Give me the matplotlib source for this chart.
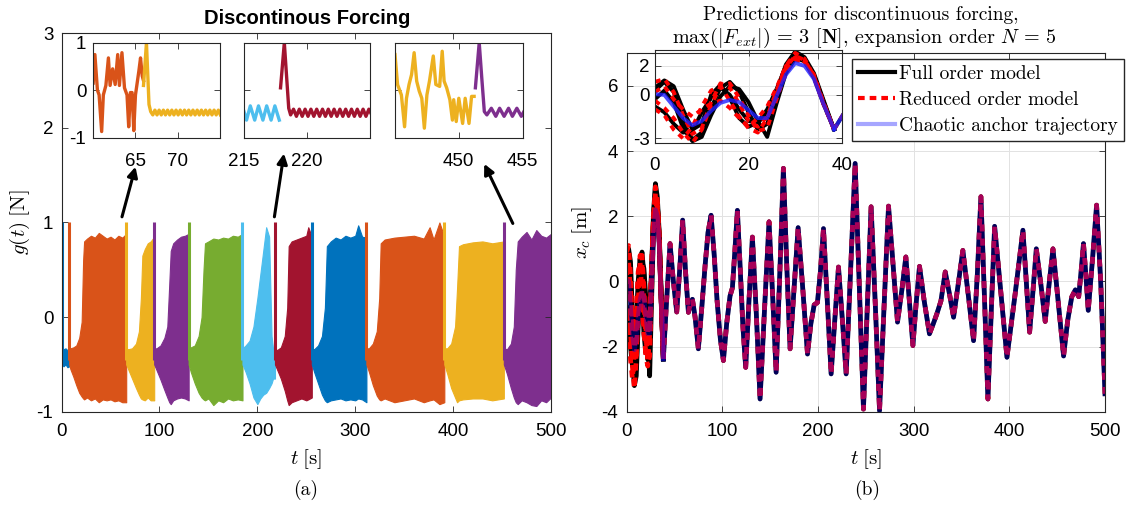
import matplotlib.pyplot as plt
from matplotlib.lines import Line2D

plt.rcParams['font.family'] = ['Liberation Sans', 'DejaVu Sans']
plt.rcParams['mathtext.fontset'] = 'cm'
plt.rcParams['axes.unicode_minus'] = False

# MATLAB default colour order
c_blue, c_orange, c_yellow, c_purple = '#0072BD', '#D95319', '#EDB120', '#7E2F8E'
c_green, c_lblue, c_dred = '#77AC30', '#4DBEEE', '#A2142F'

# ---------------- (a) discontinuous forcing g(t) ----------------
# each segment: times, upper and lower edge of the dense oscillation band
seg_colors = [c_blue, c_orange, c_yellow, c_purple, c_green, c_lblue, c_dred,
              c_blue, c_orange, c_yellow, c_purple]
seg_t = [
    [0.3, 2, 4, 6, 7.8],
    [7.8, 9, 12, 15, 18, 20.5, 22, 23, 26, 30, 34, 38, 42, 46, 50, 54, 58, 62, 66.0],
    [66.0, 68, 72, 76, 79, 81, 82.5, 85, 88, 91, 94.6],
    [94.6, 97, 101, 105, 108, 110, 111.5, 114, 118, 122, 126, 129.8],
    [129.8, 132, 136, 140, 143, 145, 146.5, 150, 155, 160, 165, 170, 175, 180, 184.8],
    [184.8, 188, 192, 196, 200, 203, 206, 209, 212, 214.5, 216, 218.0],
    [218.0, 220, 224, 228, 230.5, 232, 235, 240, 245, 250, 252, 255.6],
    [255.6, 258, 262, 266, 269, 271, 275, 280, 285, 290, 295, 300, 303, 307, 311.4],
    [311.4, 314, 318, 322, 324.5, 326, 330, 340, 350, 360, 370, 376, 380, 386, 391.0],
    [391.0, 394, 398, 402, 404, 406, 410, 420, 430, 440, 451.8],
    [451.8, 455, 459, 462, 464, 466, 470, 475, 480, 485, 490, 495, 500],
]
seg_hi = [
    [-0.33, -0.34, -0.33, -0.35, -0.34],
    [-0.33, -0.33, -0.32, -0.3, -0.22, -0.05, 0.6, 0.8, 0.83, 0.86, 0.84, 0.89, 0.86, 0.83, 0.85, 0.82, 0.86, 0.84, 0.88],
    [-0.33, -0.34, -0.33, -0.28, -0.15, 0.2, 0.65, 0.72, 0.78, 0.8, 0.85],
    [-0.33, -0.33, -0.3, -0.22, -0.1, 0.35, 0.7, 0.78, 0.82, 0.85, 0.86, 0.88],
    [-0.33, -0.32, -0.3, -0.2, 0.0, 0.5, 0.78, 0.8, 0.83, 0.82, 0.84, 0.83, 0.86, 0.85, 0.88],
    [-0.33, -0.3, -0.25, -0.1, 0.2, 0.45, 0.7, 0.95, 0.85, -0.2, -0.33, -0.33],
    [-0.33, -0.35, -0.32, -0.2, 0.1, 0.75, 0.8, 0.82, 0.84, 0.86, 0.95, 0.85],
    [-0.33, -0.34, -0.3, -0.2, 0.1, 0.75, 0.8, 0.84, 0.82, 0.86, 0.84, 0.86, 0.97, 0.85, 0.84],
    [-0.33, -0.33, -0.28, -0.15, 0.2, 0.78, 0.82, 0.84, 0.85, 0.86, 0.83, 0.95, 0.82, 1.0, 0.85],
    [-0.33, -0.33, -0.28, -0.1, 0.3, 0.75, 0.77, 0.79, 0.8, 0.78, 0.8],
    [-0.33, -0.34, -0.28, -0.1, 0.5, 0.8, 0.85, 0.9, 0.82, 0.92, 0.86, 0.84, 0.88],
]
seg_lo = [
    [-0.5, -0.52, -0.5, -0.53, -0.52],
    [-0.5, -0.55, -0.63, -0.72, -0.8, -0.84, -0.86, -0.87, -0.85, -0.88, -0.86, -0.9, -0.87, -0.88, -0.87, -0.89, -0.88, -0.9, -0.9],
    [-0.5, -0.55, -0.65, -0.75, -0.82, -0.86, -0.87, -0.88, -0.85, -0.88, -0.88],
    [-0.5, -0.56, -0.66, -0.77, -0.85, -0.9, -0.92, -0.88, -0.86, -0.85, -0.86, -0.88],
    [-0.5, -0.58, -0.7, -0.8, -0.85, -0.87, -0.88, -0.86, -0.93, -0.88, -0.9, -0.86, -0.88, -0.87, -0.88],
    [-0.5, -0.58, -0.7, -0.85, -0.92, -0.86, -0.82, -0.8, -0.75, -0.7, -0.65, -0.65],
    [-0.5, -0.55, -0.65, -0.78, -0.88, -0.93, -0.9, -0.88, -0.86, -0.88, -0.87, -0.85],
    [-0.5, -0.58, -0.7, -0.82, -0.88, -0.9, -0.88, -0.87, -0.86, -0.88, -0.87, -0.88, -0.86, -0.87, -0.9],
    [-0.5, -0.58, -0.72, -0.83, -0.87, -0.88, -0.86, -0.9, -0.88, -0.86, -0.9, -0.88, -0.87, -0.92, -0.9],
    [-0.5, -0.6, -0.75, -0.85, -0.9, -0.88, -0.87, -0.86, -0.86, -0.88, -0.86],
    [-0.5, -0.6, -0.75, -0.85, -0.9, -0.92, -0.88, -0.9, -0.93, -0.94, -0.88, -0.9, -0.85],
]
# switching spikes (start of every segment)
spike_t = [0.5, 7.8, 66.3, 94.6, 129.8, 184.8, 218.2, 255.6, 311.4, 391.0, 451.8]

# zoomed windows around three switches
ins1_a_t = [60.0, 60.2, 60.5, 60.7, 61.0, 61.2, 61.5, 61.8, 62.0, 62.3, 62.6, 62.9, 63.1, 63.4,
            63.7, 64.0, 64.2, 64.4, 64.6, 64.8, 65.0, 65.4, 65.6, 65.8, 65.95]
ins1_a_g = [0.15, 0.75, 0.0, -0.1, -0.87, -0.1, 0.1, 0.68, 0.1, 0.45, 0.12, 0.75, 0.1, 0.79,
            0.05, -0.1, -0.77, -0.05, -0.05, -0.85, -0.1, 0.4, 0.68, 0.3, 0.2]
ins1_b_t = [65.95, 66.3, 66.6, 66.8, 67.05, 67.3, 67.55, 67.8, 68.05, 68.3, 68.55, 68.8, 69.05,
            69.3, 69.55, 69.8, 70.05, 70.3, 70.55, 70.8, 71.05, 71.3, 71.55, 71.8, 72.05, 72.3,
            72.55, 72.8, 73.05, 73.3, 73.55, 73.8, 74.05, 74.3, 74.55, 74.8, 75.05]
ins1_b_g = [0.1, 1.0, -0.3, -0.45, -0.52, -0.42, -0.52, -0.42, -0.52, -0.42, -0.52, -0.42, -0.52,
            -0.42, -0.52, -0.42, -0.52, -0.42, -0.52, -0.42, -0.52, -0.42, -0.52, -0.42, -0.52, -0.42,
            -0.52, -0.42, -0.52, -0.42, -0.52, -0.42, -0.52, -0.42, -0.52, -0.42, -0.52]
ins2_a_t = [215.0, 215.2, 215.5, 215.85, 216.15, 216.5, 216.8, 217.15, 217.45, 217.8]
ins2_a_g = [-0.45, -0.63, -0.33, -0.63, -0.33, -0.63, -0.33, -0.63, -0.33, -0.63]
ins2_b_t = [217.9, 218.2, 218.55, 218.7, 218.93, 219.16, 219.39, 219.62, 219.85, 220.08, 220.31,
            220.54, 220.77, 221.0, 221.23, 221.46, 221.69, 221.92, 222.15, 222.38, 222.61, 222.84,
            223.07, 223.3, 223.53, 223.76, 223.99, 224.22, 224.45, 224.68, 224.91, 225.1]
ins2_b_g = [0.05, 1.0, -0.38, -0.52, -0.4, -0.55, -0.4, -0.55, -0.4, -0.55, -0.4,
            -0.55, -0.4, -0.55, -0.4, -0.55, -0.4, -0.55, -0.4, -0.55, -0.4, -0.55,
            -0.4, -0.55, -0.4, -0.55, -0.4, -0.55, -0.4, -0.55, -0.4, -0.5]
ins3_a_t = [445.0, 445.2, 445.5, 445.75, 445.9, 446.1, 446.3, 446.5, 446.7, 446.9, 447.1, 447.3,
            447.5, 447.7, 448.0, 448.2, 448.5, 448.7, 448.85, 449.05, 449.3, 449.5, 449.6, 449.8,
            450.0, 450.3, 450.5, 450.8, 451.0, 451.2]
ins3_a_g = [0.75, 0.12, -0.1, -0.77, -0.17, 0.12, 0.33, 0.79, 0.19, -0.02, -0.17, -0.8,
            -0.1, 0.19, 0.72, 0.12, 0.08, 0.82, 0.19, 0.05, -0.2, -0.63, -0.2, -0.66,
            -0.17, -0.7, -0.17, -0.7, -0.13, -0.13]
ins3_b_t = [451.3, 451.6, 451.8, 452.0, 452.2, 452.55, 452.9, 453.2, 453.55, 453.9, 454.2,
            454.55, 454.9, 455.1]
ins3_b_g = [0.05, 1.0, 0.26, -0.45, -0.52, -0.38, -0.55, -0.38, -0.55, -0.38, -0.55,
            -0.38, -0.55, -0.45]

# arrows: (tail t, tail g) -> (head t, head g)
arrow_tail = [(61.7, 1.06), (217.4, 1.06), (461.0, 0.99)]
arrow_head = [(75.5, 1.59), (227.2, 1.73), (431.8, 1.62)]

# ---------------- (b) predictions x_c(t) ----------------
t_early = [0, 2, 4, 6, 8, 10, 12, 14, 16, 18, 20, 22, 24, 26, 28, 30, 32, 34, 36, 38.3]
anchor_early = [0.05, 0.0, -0.8, -1.6, -2.1, -1.8, -1.1, -0.55, -0.35, -0.5, -1.05, -1.6,
                -1.6, -0.1, 1.4, 2.2, 2.0, 1.1, -0.6, -2.38]
fom_early = [
    [0.5, 1.0, 0.6, -1.0, -2.4, -2.0, 0.0, 0.7, -0.2, -1.6, -2.2, -1.9, -1.0, 0.4, 2.0, 2.8, 2.4, 1.3, -0.5, -2.38],
    [0.3, 0.9, 0.2, -1.8, -3.1, -2.6, -0.9, 0.5, 0.9, 0.2, -1.2, -2.4, -2.0, 0.0, 1.8, 2.6, 2.3, 1.2, -0.6, -2.38],
    [-0.3, 0.3, -0.5, -2.3, -3.2, -2.9, -1.4, -0.1, 0.6, 0.4, -0.5, -1.8, -2.9, -0.6, 1.5, 2.5, 2.4, 1.4, -0.4, -2.38],
    [-0.8, -1.2, -2.0, -2.6, -2.5, -1.2, -0.2, 0.5, 0.0, -1.0, -1.8, -1.9, -1.3, 0.2, 2.1, 3.0, 2.6, 1.5, -0.3, -2.38],
]
rom_early = [
    [0.9, 1.1, 0.2, -1.4, -2.7, -2.3, -0.5, 0.8, 0.5, -0.6, -1.8, -2.2, -1.5, 0.3, 2.0, 2.6, 2.3, 1.2, -0.6, -2.38],
    [-0.4, -0.9, -1.6, -2.6, -3.3, -2.4, -0.7, 0.6, 0.8, -0.2, -1.4, -2.5, -2.3, -0.3, 1.6, 2.4, 2.3, 1.4, -0.5, -2.38],
    [0.2, 0.6, -0.3, -1.0, -1.5, -1.0, -0.6, -0.4, -0.9, -1.6, -2.2, -1.6, -0.8, 0.5, 2.0, 2.9, 2.5, 1.3, -0.6, -2.38],
    [-1.0, -1.4, -2.4, -3.0, -2.2, -0.8, 0.3, 0.6, -0.4, -1.5, -2.3, -2.6, -1.6, 0.0, 1.9, 2.7, 2.4, 1.3, -0.5, -2.38],
]
# after ~40 s all trajectories coincide
t_tail = [38.3, 41.5, 45.3, 48.8, 52.3, 55.5, 58.5, 61.5, 64.5, 66.5, 68.7, 71.5, 74.9, 78.5,
          82, 85, 88.2, 91.5, 94.5, 98, 101.1, 104.5, 108, 110.5, 113, 115.7, 118.5, 121.5,
          124.4, 127.8, 131.4, 135.5, 139.4, 144, 148.8, 152.5, 156.2, 160, 163.8, 167.3,
          170.8, 175, 179.2, 184, 189, 192.5, 196, 199.4, 202.5, 205.7, 209.7, 213.7, 217.5,
          221.4, 225.5, 229.4, 234, 238.8, 243, 247.5, 251.5, 255.5, 260, 264.3, 269, 273.7,
          278.5, 283.1, 287.5, 291.8, 295.5, 299.2, 302.5, 306.1, 311, 316.5, 320.5, 324.2,
          328.5, 333, 337.5, 341.7, 346.5, 351.4, 357, 362.6, 366.5, 370.3, 374, 377.6, 381,
          384.6, 391, 397.5, 406, 414.2, 417.7, 421.2, 424.7, 428.2, 433, 437.5, 441.5, 445.6,
          451, 456.7, 461, 465.2, 469, 472.5, 475, 477.5, 480, 482.5, 487, 491.2, 495.5, 500]
x_tail = [-2.38, -0.7, 1.16, 0.0, -0.94, 0.4, 1.88, 0.3, -0.95, -0.7, -0.55, -1.1, -2.07, -0.8,
          0.5, 1.5, 2.03, 0.8, -0.6, -1.8, -2.43, -1.3, -0.45, -0.2, 0.9, 2.18, 0.5, -1.4,
          -2.64, -0.6, 1.36, -1.0, -3.61, -0.9, 1.83, -0.4, -2.79, 0.2, 3.47, 0.5,
          -2.07, -0.2, 1.65, -0.2, -2.23, -1.3, -0.72, -0.65, 0.3, 1.62, -0.6, -2.84, -1.2,
          0.44, -1.2, -2.84, 0.3, 3.62, 0.0, -3.92, -0.8, 2.29, -0.8, -3.97, -0.8, 2.31,
          0.5, -1.25, -0.3, 0.75, -0.6, -1.97, -0.7, 0.46, -0.6, -1.61, -1.3, -1.0,
          -0.6, 0.29, -0.4, -1.1, -0.1, 0.95, -0.4, -1.82, 0.2, 2.6, -0.5, -3.61, -1.0,
          1.69, -0.3, -2.33, -0.4, 1.57, 0.0, -1.56, -0.3, 1.0, -0.1, -1.23, -0.1, 1.0,
          -0.6, -2.29, -1.2, -0.48, -0.26, -0.47, 0.3, 1.16, 0.2, -0.89, 0.7, 2.34, 0.0, -3.45]

W, H = 1129, 507
fig = plt.figure(figsize=(W / 100, H / 100), dpi=100)


def style(ax, size=13.5):
    ax.tick_params(direction='in', top=True, right=True, labelsize=size, length=4,
                   width=0.6, color='#262626')
    for s in ax.spines.values():
        s.set_color('#262626')
        s.set_linewidth(0.8)


def px(x0, y0, x1, y1):
    # pixel box (left, top, right, bottom) -> figure fraction rect
    return [x0 / W, 1 - y1 / H, (x1 - x0) / W, (y1 - y0) / H]


# ---- left panel
axl = fig.add_axes(px(61.6, 33.3, 551, 411.7))
for t, hi, lo, c in zip(seg_t, seg_hi, seg_lo, seg_colors):
    axl.fill_between(t, lo, hi, color=c, lw=0.8, edgecolor=c)
axl.vlines(spike_t, -0.45, 1.0, colors=seg_colors, lw=2.2)
for tail, head in zip(arrow_tail, arrow_head):
    axl.annotate('', xy=head, xytext=tail,
                 arrowprops=dict(arrowstyle='-|>', color='k', lw=2.2, mutation_scale=15,
                                 shrinkA=0, shrinkB=0))
axl.set_xlim(0, 500)
axl.set_ylim(-1, 3)
axl.set_xticks([0, 100, 200, 300, 400, 500])
axl.set_yticks([-1, 0, 1, 2, 3])
style(axl)
axl.tick_params(axis='x', pad=8)
axl.tick_params(axis='y', pad=6)
axl.set_xlabel(r'$t\;[\mathrm{s}]$', fontsize=15)
axl.xaxis.set_label_coords(0.5, -0.095)
axl.set_ylabel(r'$g(t)\;[\mathrm{N}]$', fontsize=15)
axl.yaxis.set_label_coords(-0.06, 0.5)
fig.text(307 / W, 1 - 18 / H, 'Discontinous Forcing', ha='center', va='center',
         fontsize=14.5, fontweight='bold')
fig.text(306 / W, 1 - 490 / H, '(a)', ha='center', va='center', family='cmr10', fontsize=14)

insets = [
    (px(93.2, 42.7, 220, 137.7), (60, 75), [65, 70],
     [(ins1_a_t, ins1_a_g, c_orange), (ins1_b_t, ins1_b_g, c_yellow)], True),
    (px(244, 42.7, 370, 137.7), (215, 225), [215, 220],
     [(ins2_a_t, ins2_a_g, c_lblue), (ins2_b_t, ins2_b_g, c_dred)], False),
    (px(395, 42.7, 522.6, 137.7), (445, 455), [450, 455],
     [(ins3_a_t, ins3_a_g, c_yellow), (ins3_b_t, ins3_b_g, c_purple)], False),
]
for rect, xl, xt, lines, ylab in insets:
    ax = fig.add_axes(rect)
    for t, g, c in lines:
        ax.plot(t, g, color=c, lw=2.4, solid_joinstyle='round')
    ax.set_xlim(*xl)
    ax.set_ylim(-1, 1)
    ax.set_xticks(xt)
    ax.set_yticks([-1, 0, 1])
    style(ax)
    ax.tick_params(axis='x', pad=11)
    ax.tick_params(axis='y', pad=5, labelleft=ylab)

# ---- right panel
axr = fig.add_axes(px(626.7, 53.3, 1105, 411.7))
dash = (0, (1.5, 1.5))
lw_main = 3.4


def draw_traj(ax, lw, blue_alpha, blue_color):
    for x in fom_early:
        ax.plot(t_early, x, color='k', lw=lw, solid_joinstyle='round')
    ax.plot(t_tail, x_tail, color='k', lw=lw, solid_joinstyle='round')
    for x in rom_early:
        ax.plot(t_early, x, color='r', lw=lw, ls=dash, dash_capstyle='butt')
    ax.plot(t_tail, x_tail, color='r', lw=lw, ls=dash, dash_capstyle='butt')
    ax.plot(t_early, anchor_early, color=blue_color, alpha=blue_alpha, lw=lw)
    ax.plot(t_tail, x_tail, color=blue_color, alpha=blue_alpha, lw=lw)


draw_traj(axr, lw_main, 0.35, 'b')
axr.set_xlim(0, 500)
axr.set_ylim(-4, 7)
axr.set_xticks([0, 100, 200, 300, 400, 500])
axr.set_yticks([-4, -2, 0, 2, 4, 6])
axr.grid(True, color='#e2e2e2', lw=0.7)
axr.set_axisbelow(True)
style(axr)
axr.tick_params(axis='x', pad=8)
axr.tick_params(axis='y', pad=6)
axr.set_xlabel(r'$t\;[\mathrm{s}]$', fontsize=15)
axr.xaxis.set_label_coords(0.5, -0.1)
axr.set_ylabel(r'$x_c\;[\mathrm{m}]$', fontsize=15)
axr.yaxis.set_label_coords(-0.068, 0.5)

fig.text(861 / W, 1 - 15 / H, 'Predictions for discontinuous forcing,', ha='center',
         va='center', family='cmr10', fontsize=14)
fig.text(864 / W, 1 - 38 / H, r'$\max(|F_{ext}|)\,=\,3$ [$\mathbf{N}$], expansion order $N\,=\,5$',
         ha='center', va='center', family='cmr10', fontsize=14.5)
fig.text(867 / W, 1 - 490 / H, '(b)', ha='center', va='center', family='cmr10', fontsize=14)

handles = [Line2D([], [], color='k', lw=3),
           Line2D([], [], color='r', lw=3, ls=(0, (1.6, 1.2))),
           Line2D([], [], color='b', alpha=0.35, lw=3)]
axr.legend(handles, ['Full order model', 'Reduced order model', 'Chaotic anchor trajectory'],
           loc='upper right', bbox_to_anchor=(1124 / W, 1 - 59 / H),
           bbox_transform=fig.transFigure, fancybox=False, framealpha=1,
           edgecolor='#262626', prop={'family': 'cmr10', 'size': 14},
           handlelength=1.9, handletextpad=0.25, borderpad=0.3, labelspacing=0.42,
           borderaxespad=0)

axi = fig.add_axes(px(655, 50, 842, 142.7))
axi.set_facecolor('none')
draw_traj(axi, 2.8, 0.8, '#2020ff')
axi.set_xlim(0, 40)
axi.set_ylim(-3.3, 3.1)
axi.set_xticks([0, 20, 40])
axi.set_yticks([-3, 0, 2])
axi.grid(True, color='#e2e2e2', lw=0.7)
style(axi)
axi.tick_params(axis='x', pad=10)
axi.tick_params(axis='y', pad=4)

fig.savefig('out.png', dpi=100)
